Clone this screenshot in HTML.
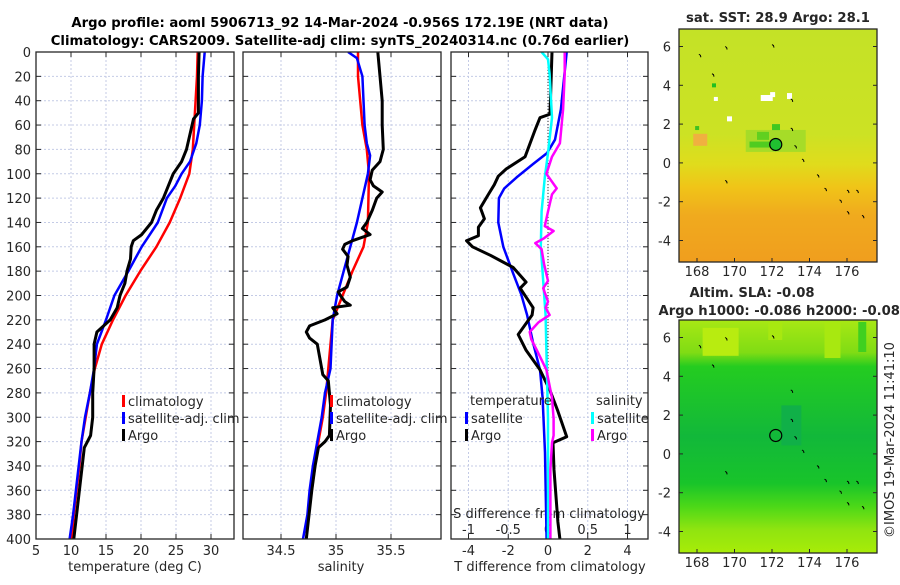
<!DOCTYPE html>
<html><head><meta charset="utf-8"><style>
body{margin:0;background:#fff;width:900px;height:580px;overflow:hidden}
svg text{font-family:"DejaVu Sans","Liberation Sans",sans-serif;fill:#262626}
</style></head><body>
<svg id="fig" width="900" height="580" xmlns="http://www.w3.org/2000/svg">
<defs>
<linearGradient id="sstGrad" x1="0" y1="0" x2="0" y2="1">
<stop offset="0" stop-color="#c4e226"/><stop offset="0.45" stop-color="#cce224"/><stop offset="0.58" stop-color="#e0dc1c"/><stop offset="0.68" stop-color="#f0c418"/><stop offset="0.8" stop-color="#f0aa1e"/><stop offset="1" stop-color="#f09e1e"/>
</linearGradient>
<linearGradient id="slaGrad" x1="0" y1="0" x2="0" y2="1">
<stop offset="0" stop-color="#a8e814"/><stop offset="0.14" stop-color="#80dc14"/><stop offset="0.2" stop-color="#24cc20"/><stop offset="0.5" stop-color="#12b83a"/><stop offset="0.7" stop-color="#18c42a"/><stop offset="0.8" stop-color="#4cd818"/><stop offset="0.9" stop-color="#90e410"/><stop offset="1" stop-color="#a8ec08"/>
</linearGradient>
<clipPath id="c1"><rect x="36" y="52" width="198" height="487"/></clipPath>
<clipPath id="c2"><rect x="243" y="52" width="198" height="487"/></clipPath>
<clipPath id="c3"><rect x="451" y="52" width="197" height="487"/></clipPath>
</defs>
<text x="340" y="27" text-anchor="middle" font-size="13.2" font-weight="bold" style="fill:#000">Argo profile: aoml 5906713_92 14-Mar-2024 -0.956S 172.19E (NRT data)</text>
<text x="340" y="45" text-anchor="middle" font-size="13.2" font-weight="bold" style="fill:#000">Climatology: CARS2009. Satellite-adj clim: synTS_20240314.nc (0.76d earlier)</text>
<g id="g1"></g><g id="g2"></g><g id="g3"></g>
<g id="maps"></g>
<text transform="translate(894,440) rotate(-90)" text-anchor="middle" font-size="13">©IMOS 19-Mar-2024 11:41:10</text>
</svg>
<script>
// depth arrays and values (m, deg C, PSU)
const depthTClim=[0,20,40,60,80,100,120,140,160,180,200,220,240,260,280,300,320,340,360,380,400];
const tempClim=[28.1,28.0,27.8,27.6,27.4,26.9,25.6,24.1,22.2,19.9,17.8,16.0,14.4,13.4,12.7,12.1,11.5,11.2,10.8,10.4,10.1];
const depthTSat=[0,20,40,60,75,90,100,110,120,140,160,180,200,220,240,260,280,300,320,340,360,380,400];
const tempSat=[29.1,28.8,28.7,28.4,27.9,27.0,25.8,24.9,23.7,22.4,20.1,18.2,16.2,15.0,13.7,13.3,12.7,12.0,11.5,11.1,10.7,10.3,9.8];
const depthTArgo=[0,20,50,55,60,80,90,100,110,120,130,140,150,155,160,170,180,190,200,210,220,230,240,260,280,300,315,325,350,380,400];
const tempArgo=[28.3,28.2,28.2,27.5,27.3,26.5,25.8,24.6,23.9,23.2,22.2,21.5,20.1,18.9,18.6,18.5,18.0,17.7,17.0,16.6,15.6,13.7,13.3,13.3,13.1,13.1,12.8,11.9,11.4,10.8,10.4];
const depthSClim=[0,20,60,80,100,140,160,180,200,220,240,260,280,300,320,340,360,380,400];
const salClim=[35.2,35.2,35.24,35.28,35.3,35.29,35.25,35.15,35.06,34.97,34.95,34.93,34.91,34.88,34.84,34.81,34.78,34.75,34.73];
const depthSSat=[0,5,20,40,60,75,85,100,120,140,160,180,200,220,240,260,280,300,320,340,360,380,400];
const salSat=[35.11,35.19,35.24,35.25,35.26,35.28,35.31,35.29,35.24,35.19,35.13,35.07,35.01,34.97,34.96,34.95,34.9,34.87,34.83,34.79,34.76,34.74,34.7];
const depthSArgo=[0,20,40,60,80,90,97,105,110,115,120,130,140,145,150,155,158,162,168,175,185,193,197,200,205,208,210,215,220,225,230,235,240,250,265,270,290,315,320,325,340,360,400];
const salArgo=[35.38,35.4,35.42,35.42,35.43,35.4,35.33,35.31,35.34,35.42,35.37,35.33,35.28,35.24,35.31,35.15,35.08,35.06,35.11,35.1,35.13,35.1,35.02,35.04,35.08,35.13,34.97,35.01,34.9,34.76,34.73,34.76,34.83,34.85,34.88,34.93,34.95,34.94,34.9,34.84,34.81,34.78,34.73];
const depthDTArgo=[0,51,54,64,86,96,102,109,117,128,137,144,151,155,160,167,177,189,194,210,216,232,245,261,278,295,316,321,343,386,400];
const dTArgo=[0.2,0.1,-0.4,-0.65,-1.15,-2.1,-2.5,-2.7,-3.0,-3.4,-3.2,-3.5,-3.5,-4.1,-3.8,-2.9,-1.75,-1.1,-1.4,-0.75,-0.8,-1.5,-1.1,-0.4,0.1,0.5,0.94,0.25,0.3,0.5,0.6];
const depthDTSat=[0,47,72,83,92,103,112,120,140,160,182,199,216,239,261,284,329,400];
const dTSat=[0.94,0.65,0.35,-0.05,-0.75,-1.58,-2.2,-2.47,-2.5,-2.25,-1.75,-1.35,-1.05,-0.75,-0.4,-0.27,-0.15,-0.07];
const depthDSSat=[0,6,18,54,83,103,131,160,188,216,245,273,301,400];
const dSSat=[-0.08,0.0,0.02,0.05,0.0,-0.04,-0.08,-0.09,-0.06,-0.03,-0.02,-0.01,0.0,0.0];
const depthDSArgo=[0,18,47,75,86,100,112,117,131,143,147,153,157,162,174,188,194,205,210,216,222,230,236,245,261,284,301,315,321,343,400];
const dSArgo=[0.21,0.21,0.19,0.15,0.05,-0.02,0.11,0.05,0.0,-0.04,0.07,-0.05,-0.16,-0.08,-0.05,0.0,-0.06,0.0,-0.03,0.02,-0.12,-0.23,-0.21,-0.14,-0.02,0.05,0.07,0.07,0.05,0.03,0.03];
const depthTicks=[0,20,40,60,80,100,120,140,160,180,200,220,240,260,280,300,320,340,360,380,400];
const tempTicks=[5,10,15,20,25,30];
const salTicks=[34.5,35,35.5];
const dTTicks=[-4,-2,0,2,4];
const dSTicks=[-1,-0.5,0,0.5,1];
const dSTickLabels=['-1','-0.5','0','0.5','1'];

const NS='http://www.w3.org/2000/svg';
function mk(tag,attrs,parent){const e=document.createElementNS(NS,tag);for(const k in attrs)e.setAttribute(k,attrs[k]);parent.appendChild(e);return e;}
const yD=d=>52+d*1.2175;
const x1=t=>36+(t-5)*7;
const x2=s=>281+(s-34.5)*110;
const x3T=t=>548+t*19.875;
const x3S=s=>548+s*79.5;

function panel(g,L,R){
  depthTicks.forEach(d=>{
    const ln=mk('line',{x1:L,x2:R,y1:yD(d),y2:yD(d),stroke:'#c4cbe6','stroke-width':1,'stroke-dasharray':'2,2'},g);
    
    
    mk('line',{x1:L,x2:L+5,y1:yD(d),y2:yD(d),stroke:'#262626'},g);
    mk('line',{x1:R-5,x2:R,y1:yD(d),y2:yD(d),stroke:'#262626'},g);
  });
}
function vgrid(g,xs,L,R){xs.forEach(x=>{if(x>L+1&&x<R-1){
  const ln=mk('line',{x1:x,x2:x,y1:52,y2:539,stroke:'#c4cbe6','stroke-width':1,'stroke-dasharray':'2,2'},g);
  
  }
  mk('line',{x1:x,x2:x,y1:539,y2:534,stroke:'#262626'},g);mk('line',{x1:x,x2:x,y1:52,y2:57,stroke:'#262626'},g);});}
function box(g,L,R,name){const r=mk('rect',{x:L,y:52,width:R-L,height:487,fill:'none',stroke:'#262626','stroke-width':1.3},g);
  
  }
function series(g,ds,vs,fx,color,w,clip,name){
  const pts=ds.map((d,i)=>fx(vs[i]).toFixed(1)+','+yD(d).toFixed(1)).join(' ');
  const p=mk('polyline',{points:pts,fill:'none',stroke:color,'stroke-width':w,'stroke-linejoin':'round','clip-path':'url(#'+clip+')'},g);
  
  
}
function txt(g,x,y,s,anchor,size,name){const t=mk('text',{x:x,y:y,'text-anchor':anchor||'start','font-size':size||13},g);t.textContent=s;
  
  return t;}
function legendItem(g,x,y,color,label,name){
  const m=mk('rect',{x:x,y:y-10,width:3,height:12,fill:color},g);
  
  
  txt(g,x+6,y+1,label,'start',13,name);
}

// Panel 1
const g1=document.getElementById('g1');
panel(g1,36,234);
vgrid(g1,tempTicks.map(x1),36,234);
depthTicks.forEach(d=>txt(g1,31,yD(d)+5,String(d),'end',13,'depth-tick-label'));
tempTicks.forEach(t=>txt(g1,x1(t),555,String(t),'middle',13,'temperature-tick-label'));
txt(g1,135,571,'temperature (deg C)','middle',13,'temperature-axis-title');
series(g1,depthTClim,tempClim,x1,'#ff0000',2.5,'c1','temp-climatology-line');
series(g1,depthTSat,tempSat,x1,'#0000ff',2.5,'c1','temp-satellite-line');
series(g1,depthTArgo,tempArgo,x1,'#000000',3,'c1','temp-argo-line');
box(g1,36,234,'temperature-axes');
legendItem(g1,122,405,'#ff0000','climatology','legend-climatology');
legendItem(g1,122,422,'#0000ff','satellite-adj. clim','legend-satellite-adj');
legendItem(g1,122,439,'#000000','Argo','legend-argo');

// Panel 2
const g2=document.getElementById('g2');
panel(g2,243,441);
vgrid(g2,salTicks.map(x2),243,441);
salTicks.forEach(s=>txt(g2,x2(s),555,String(s),'middle',13,'salinity-tick-label'));
txt(g2,341,571,'salinity','middle',13,'salinity-axis-title');
series(g2,depthSClim,salClim,x2,'#ff0000',2.5,'c2','sal-climatology-line');
series(g2,depthSSat,salSat,x2,'#0000ff',2.5,'c2','sal-satellite-line');
series(g2,depthSArgo,salArgo,x2,'#000000',3,'c2','sal-argo-line');
box(g2,243,441,'salinity-axes');
legendItem(g2,330,405,'#ff0000','climatology','legend-climatology');
legendItem(g2,330,422,'#0000ff','satellite-adj. clim','legend-satellite-adj');
legendItem(g2,330,439,'#000000','Argo','legend-argo');

// Panel 3
const g3=document.getElementById('g3');
panel(g3,451,648);
vgrid(g3,dTTicks.map(x3T),451,648);
const zl=mk('line',{x1:x3T(0),x2:x3T(0),y1:52,y2:539,stroke:'#333','stroke-width':1,'stroke-dasharray':'1,2'},g3);


dTTicks.forEach(t=>txt(g3,x3T(t),555,String(t),'middle',13,'t-diff-tick-label'));
txt(g3,550,571,'T difference from climatology','middle',13,'t-diff-axis-title');
dSTicks.forEach((s,i)=>txt(g3,x3S(s),534,dSTickLabels[i],'middle',13,'s-diff-tick-label'));
txt(g3,549,518,'S difference from climatology','middle',13,'s-diff-axis-title');
series(g3,depthDTSat,dTSat,x3T,'#0000ff',2.5,'c3','t-diff-satellite-line');
series(g3,depthDTArgo,dTArgo,x3T,'#000000',3,'c3','t-diff-argo-line');
series(g3,depthDSSat,dSSat,x3S,'#00ffff',2.5,'c3','s-diff-satellite-line');
series(g3,depthDSArgo,dSArgo,x3S,'#ff00ff',2.5,'c3','s-diff-argo-line');
box(g3,451,648,'difference-axes');
txt(g3,470,405,'temperature','start',13,'legend-temperature-heading');
legendItem(g3,465,422,'#0000ff','satellite','legend-t-satellite');
legendItem(g3,465,439,'#000000','Argo','legend-t-argo');
txt(g3,596,405,'salinity','start',13,'legend-salinity-heading');
legendItem(g3,591,422,'#00ffff','satellite','legend-s-satellite');
legendItem(g3,591,439,'#ff00ff','Argo','legend-s-argo');

// Maps
const mg=document.getElementById('maps');
const lonTicks=[168,170,172,174,176];
const latTicks=[6,4,2,0,-2,-4];
function mapPanel(top,fill,name,patches){
  const L=679,R=877,B=top+233;
  const lx=lon=>697+(lon-168)*18.75;
  const ly=lat=>top+17.5+(6-lat)*19.4;
  const bg=mk('rect',{x:L,y:top,width:R-L,height:B-top,fill:fill},mg);
  
  
  patches.forEach(p=>mk('rect',{x:lx(p[0]),y:ly(p[1]),width:p[2],height:p[3],fill:p[4]},mg));
  const isl=[[168.1,5.6],[168.8,4.6],[169.5,6],[172,6.1],[173,3.3],[173,1.8],[173.2,0.9],[173.6,0.2],[174.4,-0.6],[174.8,-1.3],[175.6,-1.9],[176,-1.4],[176.5,-1.4],[176,-2.5],[176.8,-2.7],[169.5,-0.9]];
  isl.forEach(p=>{const c=mk('path',{d:'M'+lx(p[0])+','+ly(p[1])+' l1.5,1 l0.5,2',fill:'none',stroke:'#000','stroke-width':1},mg);
    
    });
  const ci=mk('circle',{cx:lx(172.2),cy:ly(0.95),r:6,fill:name==='sst-map'?'#20c030':'none',stroke:'#000','stroke-width':1.2},mg);
  
  
  const b=mk('rect',{x:L,y:top,width:R-L,height:B-top,fill:'none',stroke:'#262626','stroke-width':1.3},mg);
  
  
  latTicks.forEach(l=>{txt(mg,671,ly(l)+5,String(l),'end',13,'latitude-tick-label');mk('line',{x1:L,x2:L+4,y1:ly(l),y2:ly(l),stroke:'#262626'},mg);mk('line',{x1:R-4,x2:R,y1:ly(l),y2:ly(l),stroke:'#262626'},mg);});
  lonTicks.forEach(l=>{txt(mg,lx(l),B+14,String(l),'middle',13,'longitude-tick-label');mk('line',{x1:lx(l),x2:lx(l),y1:B,y2:B-4,stroke:'#262626'},mg);});
}
mapPanel(29,'url(#sstGrad)','sst-map',[
 [170.6,1.7,60,22,'#a6dc28'],[171.2,1.6,12,8,'#60d020'],[170.8,1.1,22,6,'#50cc20'],[172,2,8,6,'#40c820'],
 [171.4,3.5,12,6,'#ffffff'],[171.9,3.65,5,5,'#ffffff'],[172.8,3.6,5,6,'#ffffff'],[169.6,2.4,5,5,'#ffffff'],[168.9,3.4,4,4,'#ffffff'],
 [168.1,1.3,4,4,'#d05010'],[167.8,1.5,14,12,'#f0b040'],[168.8,4.1,4,4,'#20c020'],[167.9,1.9,4,4,'#40c020']]);
mapPanel(320,'url(#slaGrad)','sla-map',[
 [168.3,6.5,36,28,'#b8ec10'],[171.8,6.8,14,18,'#a8e810'],[174.8,6.8,16,36,'#a8e810'],[176.6,6.8,8,30,'#40d020'],[172.5,2.5,20,40,'#10b048']]);
txt(mg,778,22,'sat. SST: 28.9 Argo: 28.1','middle',13.2,'sst-map-title').setAttribute('font-weight','bold');
txt(mg,752,297,'Altim. SLA: -0.08','middle',13.2,'sla-map-title').setAttribute('font-weight','bold');
txt(mg,900,315,'Argo h1000: -0.086 h2000: -0.08','end',13.2,'sla-map-subtitle').setAttribute('font-weight','bold');
</script>
</body></html>
